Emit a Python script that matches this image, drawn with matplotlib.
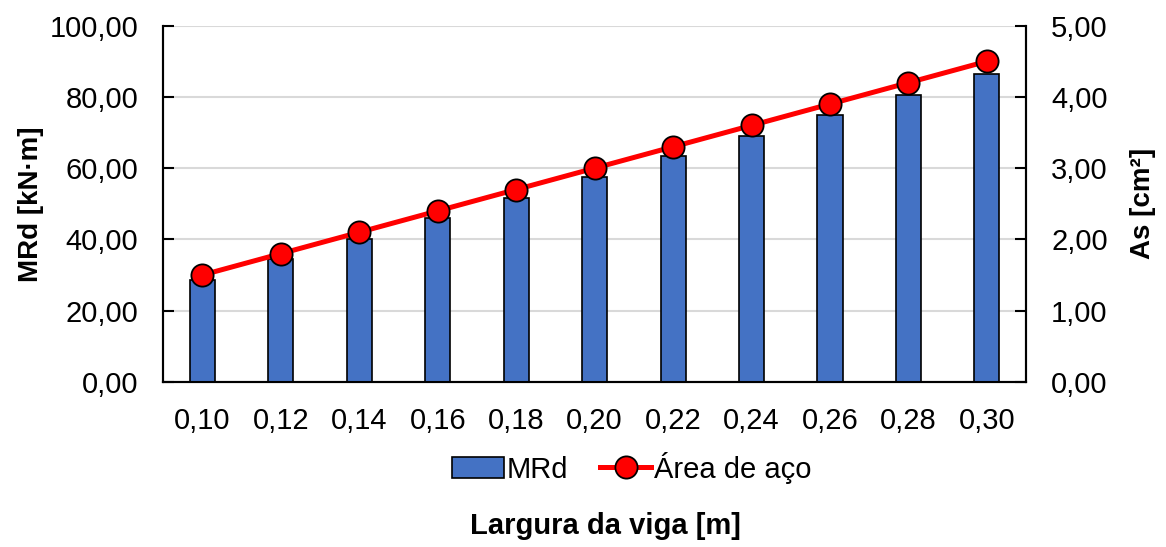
import matplotlib
matplotlib.use('Agg')
import matplotlib.pyplot as plt
import numpy as np

plt.rcParams['font.family'] = ['Liberation Sans', 'DejaVu Sans']

larguras = ["0,10", "0,12", "0,14", "0,16", "0,18", "0,20", "0,22", "0,24", "0,26", "0,28", "0,30"]
mrd = [28.7, 34.5, 40.2, 45.9, 51.7, 57.5, 63.3, 69.1, 74.8, 80.5, 86.3]
area_aco = [1.5, 1.8, 2.1, 2.4, 2.7, 3.0, 3.3, 3.6, 3.9, 4.2, 4.5]

def fmt(v, pos):
    return f"{v:.2f}".replace(".", ",")

fig = plt.figure(figsize=(11.66, 5.47), dpi=100)
ax = fig.add_axes([0.14, 0.302, 0.74, 0.651])
ax2 = ax.twinx()

x = np.arange(len(larguras))
b = ax.bar(x, mrd, width=0.32, color="#4472C4", edgecolor="black", linewidth=1.2,
           label="MRd", zorder=3)
l, = ax2.plot(x, area_aco, color="red", linewidth=3.6, marker="o", markersize=16,
              markerfacecolor="red", markeredgecolor="black", markeredgewidth=1.3,
              label="Área de aço", zorder=4)

ax.set_xlim(-0.5, len(larguras) - 0.5)
ax.set_ylim(0, 100)
ax2.set_ylim(0, 5)
ax.set_yticks(np.arange(0, 101, 20))
ax2.set_yticks(np.arange(0, 5.01, 1))
ax.yaxis.set_major_formatter(plt.FuncFormatter(fmt))
ax2.yaxis.set_major_formatter(plt.FuncFormatter(fmt))
ax.set_xticks(x)
ax.set_xticklabels(larguras)

ax.grid(axis="y", color="#d9d9d9", linewidth=1.5, zorder=0)
ax.set_axisbelow(True)

for a in (ax, ax2):
    a.spines["top"].set_visible(False)
    for s in ("left", "right", "bottom"):
        a.spines[s].set_linewidth(1.5)
ax.tick_params(axis="y", direction="in", length=8, width=1.5, labelsize=21, pad=18)
ax2.tick_params(axis="y", direction="in", length=8, width=1.5, labelsize=21, pad=18)
ax.tick_params(axis="x", length=0, labelsize=21, pad=18)

ax.set_ylabel("MRd [kN·m]", fontsize=20, fontweight="bold", labelpad=4)
ax2.set_ylabel("As [cm²]", fontsize=20, fontweight="bold", labelpad=16)
ax.set_xlabel("Largura da viga [m]", fontsize=21, fontweight="bold")
ax.xaxis.set_label_coords(0.513, -0.365)

ax2.set_zorder(ax.get_zorder() + 1)
ax2.patch.set_visible(False)

fig.legend([b, l], ["MRd", "Área de aço"], loc="center", bbox_to_anchor=(0.542, 0.145),
           ncol=2, frameon=False, fontsize=21, handlelength=1.75, handletextpad=0.1,
           columnspacing=1.1)

fig.savefig("out.png", dpi=100)
